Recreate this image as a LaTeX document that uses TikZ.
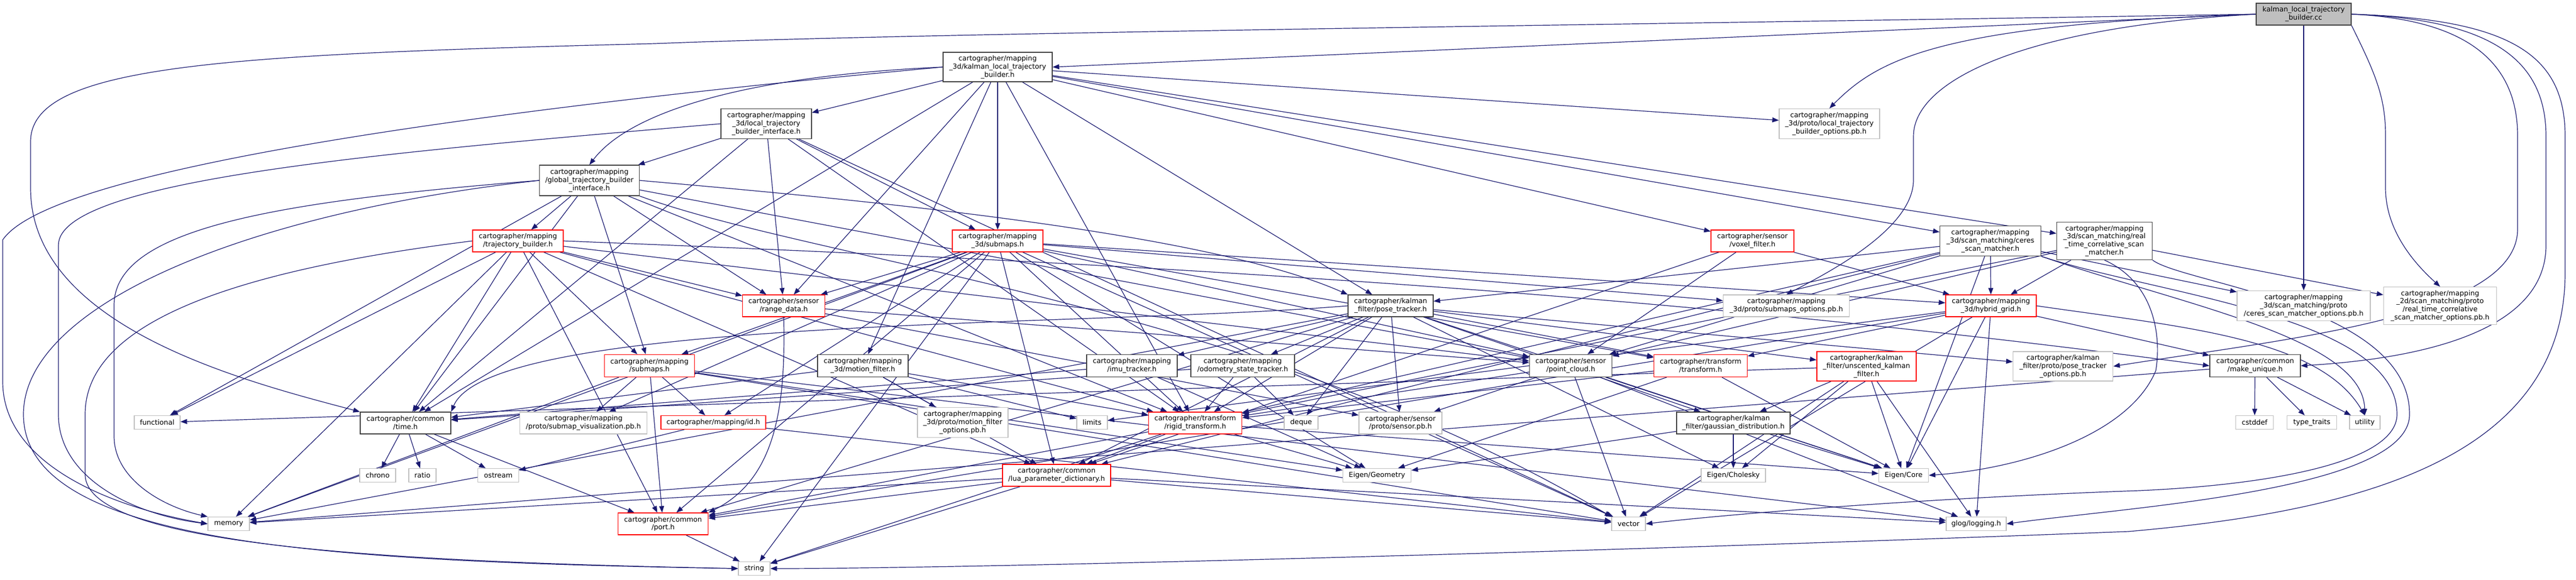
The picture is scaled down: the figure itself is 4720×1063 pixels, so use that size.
\documentclass[tikz,border=0pt]{standalone}
\usepackage{fontspec}
\setmainfont{DejaVu Sans}
\usetikzlibrary{arrows.meta}
\definecolor{edgec}{HTML}{191970}
\definecolor{redc}{HTML}{FF0000}
\definecolor{grayb}{HTML}{BFBFBF}
\definecolor{darkb}{HTML}{404040}
\pgfdeclarelayer{bg}
\pgfsetlayers{bg,main}
\newcommand{\mknode}[6]{\node[#1, minimum width=#2pt, minimum height=#3pt] (#4) at (#5) {#6};}
\begin{document}
\begin{tikzpicture}[x=1pt,y=-1pt,
 nd/.style={draw=darkb, line width=1.3pt, fill=white, inner sep=0pt, align=center, font=\fontsize{12.7}{14.8}\selectfont, text=black},
 rd/.style={nd, draw=redc},
 gr/.style={nd, draw=grayb},
 rt/.style={nd, fill=grayb},
 e/.style={draw=edgec, line width=1.2pt, -{Triangle[length=12pt,width=9pt]}},
]
\useasboundingbox (0,0) rectangle (4720,1063);
% rank 0-1
\mknode{rt}{174}{40}{root}{4221,26}{kalman\_local\_trajectory\\\_builder.cc}
\mknode{nd}{200}{54}{klt}{1828,123}{cartographer/mapping\\\_3d/kalman\_local\_trajectory\\\_builder.h}
% rank 2
\mknode{nd}{166}{55}{ltbi}{1404,227}{cartographer/mapping\\\_3d/local\_trajectory\\\_builder\_interface.h}
\mknode{gr}{184}{55}{ltbopt}{3352,227}{cartographer/mapping\\\_3d/proto/local\_trajectory\\\_builder\_options.pb.h}
% rank 3
\mknode{nd}{183}{56}{gtbi}{1080,331}{cartographer/mapping\\/global\_trajectory\_builder\\\_interface.h}
% rank 4
\mknode{rd}{166}{40}{tb}{949,442}{cartographer/mapping\\/trajectory\_builder.h}
\mknode{rd}{166}{40}{smd}{1828,442}{cartographer/mapping\\\_3d/submaps.h}
\mknode{rd}{152}{40}{voxel}{3211,442}{cartographer/sensor\\/voxel\_filter.h}
\mknode{nd}{185}{55}{ceressm}{3647,442}{cartographer/mapping\\\_3d/scan\_matching/ceres\\\_scan\_matcher.h}
\mknode{nd}{175}{69}{rtcsm}{3856,442}{cartographer/mapping\\\_3d/scan\_matching/real\\\_time\_correlative\_scan\\\_matcher.h}
% rank 5
\mknode{rd}{151}{40}{range}{1436,561}{cartographer/sensor\\/range\_data.h}
\mknode{nd}{156}{40}{posetr}{2548,561}{cartographer/kalman\\\_filter/pose\_tracker.h}
\mknode{gr}{231}{40}{smopt}{3273,561}{cartographer/mapping\\\_3d/proto/submaps\_options.pb.h}
\mknode{rd}{166}{40}{hybrid}{3648,561}{cartographer/mapping\\\_3d/hybrid\_grid.h}
\mknode{gr}{244}{55}{ceresopt}{4221,561}{cartographer/mapping\\\_3d/scan\_matching/proto\\/ceres\_scan\_matcher\_options.pb.h}
\mknode{gr}{207}{69}{rtopt}{4471,561}{cartographer/mapping\\\_2d/scan\_matching/proto\\/real\_time\_correlative\\\_scan\_matcher\_options.pb.h}
% rank 6
\mknode{rd}{165}{41}{msub}{1190,671}{cartographer/mapping\\/submaps.h}
\mknode{nd}{166}{41}{mfilter}{1581,671}{cartographer/mapping\\\_3d/motion\_filter.h}
\mknode{nd}{166}{41}{imu}{2074,671}{cartographer/mapping\\/imu\_tracker.h}
\mknode{nd}{190}{41}{odom}{2277,671}{cartographer/mapping\\/odometry\_state\_tracker.h}
\mknode{nd}{151}{41}{pcl}{2878,671}{cartographer/sensor\\/point\_cloud.h}
\mknode{rd}{171}{41}{transf}{3116,671}{cartographer/transform\\/transform.h}
\mknode{rd}{182}{54}{ukf}{3420,672}{cartographer/kalman\\\_filter/unscented\_kalman\\\_filter.h}
\mknode{gr}{183}{54}{pto}{3780,672}{cartographer/kalman\\\_filter/proto/pose\_tracker\\\_options.pb.h}
\mknode{nd}{166}{41}{mkuniq}{4132,671}{cartographer/common\\/make\_unique.h}
% rank 7
\mknode{gr}{84}{25}{functional}{288,775}{functional}
\mknode{nd}{166}{40}{time}{743,776}{cartographer/common\\/time.h}
\mknode{gr}{233}{40}{subvis}{1069,776}{cartographer/mapping\\/proto/submap\_visualization.pb.h}
\mknode{rd}{192}{25}{id}{1307,775}{cartographer/mapping/id.h}
\mknode{gr}{166}{55}{mfopts}{1764,775}{cartographer/mapping\\\_3d/proto/motion\_filter\\\_options.pb.h}
\mknode{gr}{56}{25}{limits}{2001,775}{limits}
\mknode{rd}{171}{40}{rigid}{2190,776}{cartographer/transform\\/rigid\_transform.h}
\mknode{gr}{62}{25}{deque}{2384,775}{deque}
\mknode{gr}{152}{40}{sensorpb}{2566,776}{cartographer/sensor\\/proto/sensor.pb.h}
\mknode{nd}{208}{40}{gauss}{3176,776}{cartographer/kalman\\\_filter/gaussian\_distribution.h}
\mknode{gr}{69}{25}{cstddef}{4131,775}{cstddef}
\mknode{gr}{91}{25}{typetr}{4236,775}{type\_traits}
\mknode{gr}{56}{25}{utility}{4333,775}{utility}
% rank 8
\mknode{gr}{66}{25}{chrono}{692,872}{chrono}
\mknode{gr}{50}{25}{ratio}{774,872}{ratio}
\mknode{gr}{75}{25}{ostream}{913,872}{ostream}
\mknode{rd}{198}{40}{lua}{1936,872}{cartographer/common\\/lua\_parameter\_dictionary.h}
\mknode{gr}{125}{25}{geometry}{2523,872}{Eigen/Geometry}
\mknode{gr}{118}{25}{cholesky}{3176,872}{Eigen/Cholesky}
\mknode{gr}{91}{25}{ecore}{3488,872}{Eigen/Core}
% rank 9
\mknode{gr}{76}{25}{memory}{419,961}{memory}
\mknode{rd}{165}{40}{port}{1215,961}{cartographer/common\\/port.h}
\mknode{gr}{62}{25}{vector}{2984,961}{vector}
\mknode{gr}{110}{25}{glog}{3621,961}{glog/logging.h}
% rank 10
\mknode{gr}{58}{25}{string}{1382,1043}{string}

\begin{pgfonlayer}{bg}
% root
\draw[e] (root.west) -- (klt.east);
\draw[e] (root.west) .. controls (3000,45) and (1700,60) .. (1200,80) .. controls (400,100) and (56,120) .. (56,260) -- (56,345) .. controls (56,600) and (450,700) .. (time.north west);
\draw[e] (root.west) .. controls (3550,45) and (3440,110) .. (ltbopt.north);
\draw[e] (root.west) .. controls (3700,50) and (3506,150) .. (3506,250) -- (3506,330) .. controls (3506,420) and (3350,500) .. (smopt.north);
\draw[e] (root.south) -- (ceresopt.north);
\draw[e] (root.south east) .. controls (4354,138) and (4371,180) .. (4371,250) -- (4371,345) .. controls (4371,420) and (4420,480) .. (rtopt.north);
\draw[e] (root.east) .. controls (4500,35) and (4613,100) .. (4613,250) -- (4613,420) .. controls (4613,580) and (4200,620) .. (pto.east);
\draw[e] (root.east) .. controls (4550,35) and (4665,100) .. (4665,250) -- (4665,450) .. controls (4665,620) and (4400,660) .. (mkuniq.east);
\draw[e] (root.east) .. controls (4600,35) and (4700,100) .. (4700,250) -- (4700,500) .. controls (4700,850) and (4300,940) .. (3900,975) .. controls (3000,1010) and (1800,1043) .. (string.east);
% klt
\foreach \t in {ltbi,smd,time,posetr,mfilter,ltbopt,ceressm,rtcsm,voxel,range,rigid} \draw[e] (klt) -- (\t);
\draw[e] (klt.west) .. controls (1350,140) and (1150,210) .. (gtbi.north);
\draw[e] (klt.west) .. controls (1000,190) and (100,300) .. (5,440) -- (5,700) .. controls (5,850) and (200,930) .. (memory.west);
% ltbi
\foreach \t in {gtbi,smd,range,vector,rigid,time} \draw[e] (ltbi) -- (\t);
\draw[e] (ltbi.west) .. controls (700,280) and (107,330) .. (107,450) -- (107,760) .. controls (107,880) and (250,945) .. (memory.west);
% gtbi
\foreach \t in {tb,functional,time,msub,pcl,range,rigid} \draw[e] (gtbi) -- (\t);
\draw[e] (gtbi.east) .. controls (1500,360) and (2200,420) .. (posetr.north west);
\draw[e] (gtbi.south east) .. controls (1500,480) and (2300,560) .. (vector.north west);
\draw[e] (gtbi.west) .. controls (500,370) and (209,420) .. (209,560) -- (209,800) .. controls (209,880) and (300,930) .. (memory.north west);
\draw[e] (gtbi.west) .. controls (450,390) and (43,560) .. (43,760) .. controls (43,1000) and (600,1030) .. (string.west);
% tb
\foreach \t in {functional,memory,lua,port,time,msub,pcl,range,rigid} \draw[e] (tb) -- (\t);
\draw[e] (tb.east) .. controls (2000,480) and (3000,530) .. (mkuniq.west);
\draw[e] (tb.west) .. controls (400,500) and (156,600) .. (156,760) -- (156,870) .. controls (156,1000) and (700,1030) .. (string.west);
% 3d submaps
\foreach \t in {memory,string,vector,geometry,port,id,subvis,msub,hybrid,smopt,range,rigid,transf,lua,pcl} \draw[e] (smd) -- (\t);
% voxel
\foreach \t in {hybrid,pcl,lua} \draw[e] (voxel) -- (\t);
% ceres scan matcher
\foreach \t in {ecore,lua,posetr,hybrid,ceresopt,pcl,rigid} \draw[e] (ceressm) -- (\t);
\draw[e] (ceressm.south east) .. controls (4000,560) and (4330,620) .. (utility.north);
\draw[e] (ceressm.south east) .. controls (3950,540) and (4392,580) .. (4392,760) .. controls (4392,850) and (4150,890) .. (3920,900) .. controls (3500,915) and (3150,945) .. (vector.east);
% rtcsm
\foreach \t in {rtopt,hybrid,pcl,rigid} \draw[e] (rtcsm) -- (\t);
\draw[e] (rtcsm.south) .. controls (3950,520) and (3960,620) .. (3950,680) .. controls (3900,800) and (3700,860) .. (ecore.east);
\draw[e] (rtcsm.south east) .. controls (4000,520) and (4415,560) .. (4415,760) .. controls (4415,900) and (3900,930) .. (glog.east);
% pose tracker
\foreach \t in {deque,memory,cholesky,ecore,lua,port,gauss,pto,ukf,imu,odom,sensorpb,transf,rigid} \draw[e] (posetr) -- (\t);
\draw[e] (posetr.west) .. controls (2000,600) and (900,580) .. (time.north east);
% others
\foreach \t in {geometry,time} \draw[e] (imu) -- (\t);
\foreach \t in {deque,time,rigid} \draw[e] (odom) -- (\t);
\foreach \t in {limits,time,mfopts,rigid,lua} \draw[e] (mfilter) -- (\t);
\foreach \t in {memory,vector,geometry,port,id,subvis,glog} \draw[e] (msub) -- (\t);
\foreach \t in {ostream,vector} \draw[e] (id) -- (\t);
\foreach \t in {pcl,sensorpb} \draw[e] (range) -- (\t);
\draw[e] (range.south) .. controls (1440,750) and (1420,880) .. (port.north east);
\foreach \t in {vector,ecore,sensorpb,rigid,glog} \draw[e] (pcl) -- (\t);
\foreach \t in {ecore,geometry,rigid} \draw[e] (transf) -- (\t);
\foreach \t in {string,ecore,geometry,lua,port} \draw[e] (rigid) -- (\t);
\foreach \t in {functional,vector,cholesky,ecore,gauss,glog} \draw[e] (ukf) -- (\t);
\foreach \t in {cholesky,ecore,geometry} \draw[e] (gauss) -- (\t);
\foreach \t in {memory,string,vector,port,glog} \draw[e] (lua) -- (\t);
\foreach \t in {cstddef,typetr,utility,memory} \draw[e] (mkuniq) -- (\t);
\foreach \t in {chrono,ratio,ostream,port} \draw[e] (time) -- (\t);
\draw[e] (port) -- (string);
\foreach \t in {limits,vector,ecore,mkuniq,port,transf,glog} \draw[e] (hybrid) -- (\t);
\draw[e] (hybrid.east) .. controls (4000,600) and (4250,620) .. (utility.north);
\end{pgfonlayer}
\end{tikzpicture}
\end{document}
